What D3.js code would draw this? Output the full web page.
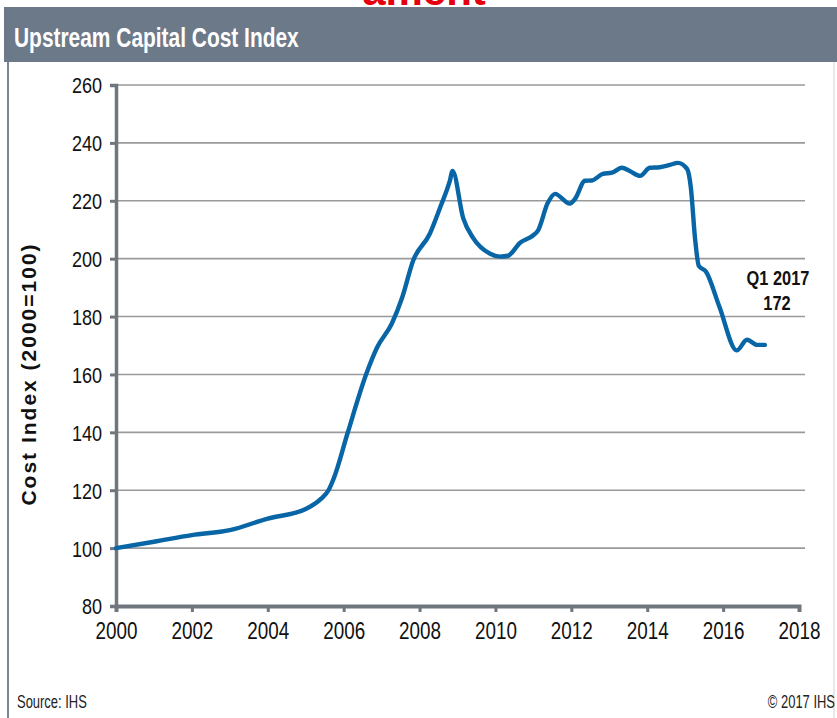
<!DOCTYPE html>
<html>
<head>
<meta charset="utf-8">
<script src="https://cdn.jsdelivr.net/npm/d3@7/dist/d3.min.js"></script>
<style>
  html, body { margin: 0; padding: 0; background: #ffffff; }
  svg { display: block; }
</style>
</head>
<body>
<svg id="chart" width="837" height="718"></svg>
<script>
// ---- Data ----
const chartTitle = "Upstream Capital Cost Index";
const yAxisTitle = "Cost Index (2000=100)";
const years = [2000, 2001, 2002, 2003, 2004, 2005, 2005.4, 2005.6, 2005.75, 2006.1, 2006.6, 2006.88,
  2007.27, 2007.54, 2007.83, 2008.27, 2008.54, 2008.8, 2008.87, 2009.15, 2009.41, 2009.86, 2010.12,
  2010.33, 2010.65, 2010.99, 2011.12, 2011.38, 2011.57, 2011.96, 2012.1, 2012.36, 2012.54, 2012.83,
  2013.07, 2013.33, 2013.54, 2013.81, 2014.07, 2014.33, 2014.6, 2014.81, 2015.05, 2015.15, 2015.26,
  2015.36, 2015.55, 2015.9, 2016.36, 2016.63, 2016.89, 2017.1];
const costIndex = [100, 102.2, 104.5, 106.2, 110.2, 113.5, 117, 120, 124.5, 139.6, 160.3, 169.3,
  177.6, 186.5, 199.3, 208.6, 217.6, 227, 230.3, 214, 207.2, 201.7, 200.7,
  201, 205.5, 208, 209.7, 219.3, 222.4, 219, 220.7, 226.9, 227, 229.3,
  229.7, 231.4, 230.3, 228.6, 231.4, 231.6, 232.4, 233.1, 231, 224.5, 207,
  197.5, 195.5, 183.5, 168.3, 172, 170.2, 170.2];
const yTicks = [80, 100, 120, 140, 160, 180, 200, 220, 240, 260];
const xTicks = [2000, 2002, 2004, 2006, 2008, 2010, 2012, 2014, 2016, 2018];
const annotationLines = ["Q1 2017", "172"];
const sourceText = "Source: IHS";
const copyrightText = "\u00A9 2017 IHS";
const topBannerText = "ament";

// ---- Drawing ----
const svg = d3.select("#chart");
const sans = "'Liberation Sans', Arial, sans-serif";
const SX = 0.82; // horizontal squeeze to mimic a narrow face

function narrowText(x, y, txt, opts) {
  const t = svg.append("text")
    .attr("transform", `translate(${x},${y}) scale(${opts.sx || SX},1)`)
    .attr("text-anchor", opts.anchor || "start")
    .attr("font-family", sans)
    .attr("font-weight", opts.bold ? "bold" : "normal")
    .attr("font-size", opts.size)
    .attr("fill", opts.fill || "#111")
    .text(txt);
  return t;
}

// red clipped text at very top
svg.append("text").attr("x", 424).attr("y", 5).attr("text-anchor", "middle")
  .attr("font-family", sans).attr("font-weight", "bold")
  .attr("font-size", 42).attr("fill", "#e4000f").text(topBannerText);

// header band
svg.append("rect").attr("x", 4).attr("y", 7).attr("width", 833).attr("height", 55).attr("fill", "#6c7989");
narrowText(14, 47, chartTitle, { size: 27, bold: true, fill: "#ffffff", sx: 0.775 });

// panel borders
svg.append("line").attr("x1", 8).attr("x2", 8).attr("y1", 62).attr("y2", 718)
  .attr("stroke", "#7c8591").attr("stroke-width", 2);
svg.append("line").attr("x1", 834).attr("x2", 834).attr("y1", 62).attr("y2", 718)
  .attr("stroke", "#e6e8ea").attr("stroke-width", 2);

const x = d3.scaleLinear().domain([2000, 2018]).range([116, 799]);
const y = d3.scaleLinear().domain([80, 260]).range([606, 85]);

// gridlines
svg.append("g").selectAll("line").data(yTicks.filter(d => d > 80)).join("line")
  .attr("x1", x(2000)).attr("x2", 805)
  .attr("y1", d => y(d)).attr("y2", d => y(d))
  .attr("stroke", "#9a9a9a").attr("stroke-width", 1.6);

// y axis
const yAxis = svg.append("g").attr("transform", `translate(${x(2000)},0)`)
  .call(d3.axisLeft(y).tickValues(yTicks).tickSize(6).tickPadding(8));
yAxis.select(".domain").attr("stroke", "#6f767e").attr("stroke-width", 3.5);
yAxis.selectAll(".tick line").attr("stroke", "#6f767e").attr("stroke-width", 3);
yAxis.selectAll(".tick text").attr("font-family", sans).attr("font-size", 22)
  .attr("fill", "#111").attr("dy", "0.36em")
  .attr("x", -14 / SX).attr("transform", `scale(${SX},1)`);

// x axis
const xAxis = svg.append("g").attr("transform", `translate(0,${y(80)})`)
  .call(d3.axisBottom(x).tickValues(xTicks).tickFormat(d3.format("d")).tickSize(6).tickPadding(11));
xAxis.select(".domain").attr("stroke", "#6f767e").attr("stroke-width", 4);
xAxis.selectAll(".tick line").attr("stroke", "#6f767e").attr("stroke-width", 3);
xAxis.selectAll(".tick text").attr("font-family", sans).attr("font-size", 23).attr("fill", "#111")
  .attr("transform", `scale(${SX},1)`);

// y axis title
svg.append("text").attr("transform", `translate(36,374) rotate(-90)`).attr("text-anchor", "middle")
  .attr("font-family", sans).attr("font-weight", "bold")
  .attr("font-size", 21).attr("letter-spacing", 2).attr("fill", "#111").text(yAxisTitle);

// line
const pts = years.map((yr, i) => [yr, costIndex[i]]);
const line = d3.line().x(d => x(d[0])).y(d => y(d[1])).curve(d3.curveMonotoneX);
svg.append("path").datum(pts).attr("d", line)
  .attr("fill", "none").attr("stroke", "#0865a6").attr("stroke-width", 4.4)
  .attr("stroke-linejoin", "round").attr("stroke-linecap", "round");

// annotation
narrowText(778, 285, annotationLines[0], { size: 20, bold: true, anchor: "middle" });
narrowText(777, 310, annotationLines[1], { size: 20, bold: true, anchor: "middle" });

// footer
narrowText(17, 708, sourceText, { size: 18, fill: "#222", sx: 0.72 });
narrowText(835, 708, copyrightText, { size: 18, fill: "#222", anchor: "end", sx: 0.72 });
</script>
</body>
</html>
